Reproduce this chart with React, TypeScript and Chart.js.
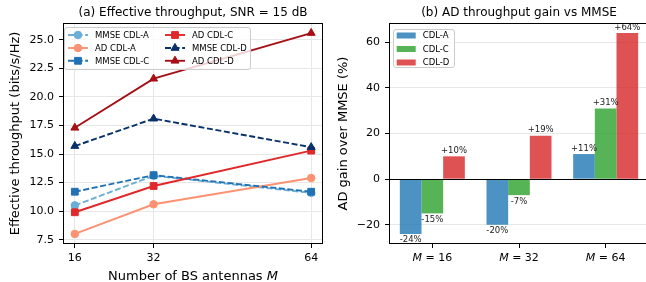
import React, { useEffect, useRef } from 'react';
import { Chart, registerables } from 'chart.js';

Chart.register(...registerables);

// ---------- data ----------
const antennas = [16, 32, 64];
const mmseCdlA = [10.5, 13.1, 11.6];
const adCdlA = [8.0, 10.6, 12.9];
const mmseCdlC = [11.7, 13.15, 11.7];
const adCdlC = [9.9, 12.2, 15.3];
const mmseCdlD = [15.7, 18.1, 15.6];
const adCdlD = [17.3, 21.6, 25.6];

const leftYTicks = [7.5, 10, 12.5, 15, 17.5, 20, 22.5, 25];

const gainCategories = ['16', '32', '64'];
const gainCdlA = [-24, -20, 11];
const gainCdlC = [-15, -7, 31];
const gainCdlD = [10, 19, 64];
const rightYTicks = [-20, 0, 20, 40, 60];

const leftTitle = '(a) Effective throughput, SNR = 15 dB';
const rightTitle = '(b) AD throughput gain vs MMSE';
const leftXLabel = 'Number of BS antennas ';
const leftYLabel = 'Effective throughput (bits/s/Hz)';
const rightYLabel = 'AD gain over MMSE (%)';

const FONT = '"DejaVu Sans"';
const GRID = '#e7e7e7';
const LW = 1.9;
const DASH = [6, 2.6];

type Series = { label: string; data: number[]; color: string; dash: boolean; style: string; r: number };

const lineSeries: Series[] = [
  { label: 'MMSE CDL-A', data: mmseCdlA, color: '#6baed6', dash: true, style: 'circle', r: 3.8 },
  { label: 'AD CDL-A', data: adCdlA, color: '#fc9272', dash: false, style: 'circle', r: 3.8 },
  { label: 'MMSE CDL-C', data: mmseCdlC, color: '#2171b5', dash: true, style: 'rect', r: 4.8 },
  { label: 'AD CDL-C', data: adCdlC, color: '#e0282a', dash: false, style: 'rect', r: 4.8 },
  { label: 'MMSE CDL-D', data: mmseCdlD, color: '#08306b', dash: true, style: 'triangle', r: 4.6 },
  { label: 'AD CDL-D', data: adCdlD, color: '#a50f15', dash: false, style: 'triangle', r: 4.6 },
];

const barSeries = [
  { label: 'CDL-A', data: gainCdlA, color: 'rgba(31,119,180,0.8)' },
  { label: 'CDL-C', data: gainCdlC, color: 'rgba(44,160,44,0.8)' },
  { label: 'CDL-D', data: gainCdlD, color: 'rgba(214,39,40,0.8)' },
];

function drawMarker(ctx: CanvasRenderingContext2D, style: string, x: number, y: number, r: number, color: string) {
  ctx.save();
  ctx.fillStyle = color;
  ctx.strokeStyle = color;
  ctx.lineWidth = 1;
  ctx.setLineDash([]);
  ctx.beginPath();
  if (style === 'circle') {
    ctx.arc(x, y, r, 0, Math.PI * 2);
  } else if (style === 'rect') {
    const s = Math.SQRT1_2 * r;
    ctx.rect(x - s, y - s, 2 * s, 2 * s);
  } else {
    const a = Math.PI * 2 / 3;
    ctx.moveTo(x, y - r);
    ctx.lineTo(x + Math.sin(a) * r, y - Math.cos(a) * r);
    ctx.lineTo(x + Math.sin(2 * a) * r, y - Math.cos(2 * a) * r);
    ctx.closePath();
  }
  ctx.fill();
  ctx.stroke();
  ctx.restore();
}

function roundRect(ctx: CanvasRenderingContext2D, x: number, y: number, w: number, h: number, r: number) {
  ctx.beginPath();
  ctx.moveTo(x + r, y);
  ctx.lineTo(x + w - r, y);
  ctx.arcTo(x + w, y, x + w, y + r, r);
  ctx.lineTo(x + w, y + h - r);
  ctx.arcTo(x + w, y + h, x + w - r, y + h, r);
  ctx.lineTo(x + r, y + h);
  ctx.arcTo(x, y + h, x, y + h - r, r);
  ctx.lineTo(x, y + r);
  ctx.arcTo(x, y, x + r, y, r);
  ctx.closePath();
}

function drawSpines(ctx: CanvasRenderingContext2D, a: any) {
  ctx.save();
  ctx.strokeStyle = '#000';
  ctx.lineWidth = 1;
  ctx.setLineDash([]);
  ctx.strokeRect(a.left + 0.5, a.top + 0.5, a.right - a.left - 1, a.bottom - a.top - 1);
  ctx.restore();
}

function drawRotated(ctx: CanvasRenderingContext2D, text: string, x: number, y: number, size: number) {
  ctx.save();
  ctx.translate(x, y);
  ctx.rotate(-Math.PI / 2);
  ctx.font = `${size}px ${FONT}`;
  ctx.fillStyle = '#000';
  ctx.textAlign = 'center';
  ctx.textBaseline = 'middle';
  ctx.fillText(text, 0, 0);
  ctx.restore();
}

// draws text pieces (regular / italic) side by side, centered at cx
function drawMixed(ctx: CanvasRenderingContext2D, parts: { t: string; it: boolean }[], cx: number, baseline: number, size: number) {
  ctx.save();
  ctx.fillStyle = '#000';
  ctx.textBaseline = 'alphabetic';
  ctx.textAlign = 'left';
  let total = 0;
  const widths = parts.map((p) => {
    ctx.font = `${p.it ? 'italic ' : ''}${size}px ${FONT}`;
    const w = ctx.measureText(p.t).width;
    total += w;
    return w;
  });
  let x = cx - total / 2;
  parts.forEach((p, i) => {
    ctx.font = `${p.it ? 'italic ' : ''}${size}px ${FONT}`;
    ctx.fillText(p.t, x, baseline);
    x += widths[i];
  });
  ctx.restore();
}

export default function App() {
  const leftRef = useRef<HTMLCanvasElement>(null);
  const rightRef = useRef<HTMLCanvasElement>(null);

  useEffect(() => {
    const leftDecor = {
      id: 'leftDecor',
      afterDraw(chart: any) {
        const { ctx, chartArea: a } = chart;
        drawSpines(ctx, a);
        const cx = (a.left + a.right) / 2;
        ctx.save();
        ctx.font = `12px ${FONT}`;
        ctx.fillStyle = '#000';
        ctx.textAlign = 'center';
        ctx.textBaseline = 'alphabetic';
        ctx.fillText(leftTitle, cx, 15.8);
        ctx.restore();
        drawMixed(ctx, [{ t: leftXLabel, it: false }, { t: 'M', it: true }], cx, 280, 13);
        drawRotated(ctx, leftYLabel, 15.3, (a.top + a.bottom) / 2, 13);
        // legend
        ctx.save();
        const bx = 64, by = 27, bw = 186, bh = 42;
        roundRect(ctx, bx + 0.5, by + 0.5, bw, bh, 2.5);
        ctx.fillStyle = 'rgba(255,255,255,0.8)';
        ctx.fill();
        ctx.strokeStyle = '#cccccc';
        ctx.lineWidth = 1;
        ctx.stroke();
        const rows = [35, 48, 60.8];
        const cols = [{ h0: 68, h1: 88, tx: 95 }, { h0: 165, h1: 185, tx: 192 }];
        lineSeries.forEach((s, i) => {
          const col = cols[Math.floor(i / 3)];
          const y = rows[i % 3];
          ctx.save();
          ctx.strokeStyle = s.color;
          ctx.lineWidth = LW;
          ctx.setLineDash(s.dash ? DASH : []);
          ctx.beginPath();
          ctx.moveTo(col.h0, y);
          ctx.lineTo(col.h1, y);
          ctx.stroke();
          ctx.restore();
          drawMarker(ctx, s.style, (col.h0 + col.h1) / 2, y, s.r, s.color);
          ctx.font = `8.5px ${FONT}`;
          ctx.fillStyle = '#000';
          ctx.textAlign = 'left';
          ctx.textBaseline = 'middle';
          ctx.fillText(s.label, col.tx, y + 0.5);
        });
        ctx.restore();
      },
    };

    const left = new Chart(leftRef.current as HTMLCanvasElement, {
      type: 'line',
      data: {
        datasets: lineSeries.map((s, i) => ({
          label: s.label,
          data: antennas.map((x, j) => ({ x, y: s.data[j] })),
          borderColor: s.color,
          backgroundColor: s.color,
          borderWidth: LW,
          borderDash: s.dash ? DASH : [],
          pointStyle: s.style as any,
          pointRadius: s.r,
          pointBorderWidth: 1,
          pointBackgroundColor: s.color,
          pointBorderColor: s.color,
          tension: 0,
          order: lineSeries.length - i,
        })),
      },
      options: {
        animation: false,
        responsive: false,
        layout: { padding: { top: 23, right: 7, left: 0, bottom: 0 } },
        plugins: { legend: { display: false }, title: { display: false }, tooltip: { enabled: false } },
        scales: {
          x: {
            type: 'linear',
            min: 13.6,
            max: 66.4,
            afterBuildTicks: (s: any) => {
              s.ticks = antennas.map((v) => ({ value: v }));
            },
            afterFit: (s: any) => {
              s.height = 38;
            },
            ticks: {
              font: { family: 'DejaVu Sans', size: 11 },
              color: '#000',
              padding: 3.5,
              autoSkip: false,
              maxRotation: 0,
              callback: (v: any) => String(v),
            },
            grid: { color: GRID, lineWidth: 1, tickColor: '#000', tickLength: 4, tickWidth: 1 },
            border: { display: false },
          },
          y: {
            type: 'linear',
            min: 7.12,
            max: 26.48,
            afterBuildTicks: (s: any) => {
              s.ticks = leftYTicks.map((v) => ({ value: v }));
            },
            afterFit: (s: any) => {
              s.width = 63;
            },
            ticks: {
              font: { family: 'DejaVu Sans', size: 11 },
              color: '#000',
              padding: 5,
              autoSkip: false,
              callback: (v: any) => Number(v).toFixed(1),
            },
            grid: { color: GRID, lineWidth: 1, tickColor: '#000', tickLength: 4, tickWidth: 1 },
            border: { display: false },
          },
        },
      },
      plugins: [leftDecor],
    } as any);

    const rightDecor = {
      id: 'rightDecor',
      afterDatasetsDraw(chart: any) {
        const { ctx, chartArea: a } = chart;
        const y0 = Math.round(chart.scales.y.getPixelForValue(0)) + 0.5;
        ctx.save();
        ctx.strokeStyle = '#000';
        ctx.lineWidth = 1;
        ctx.beginPath();
        ctx.moveTo(a.left, y0);
        ctx.lineTo(a.right, y0);
        ctx.stroke();
        ctx.font = `8.5px ${FONT}`;
        ctx.fillStyle = '#222';
        ctx.textAlign = 'center';
        ctx.textBaseline = 'alphabetic';
        barSeries.forEach((s, di) => {
          const meta = chart.getDatasetMeta(di);
          meta.data.forEach((bar: any, i: number) => {
            const v = s.data[i];
            const txt = (v > 0 ? '+' : '') + v + '%';
            const y = v >= 0 ? bar.y - 3.4 : bar.y + 8.4;
            ctx.fillText(txt, bar.x, y);
          });
        });
        ctx.restore();
      },
      afterDraw(chart: any) {
        const { ctx, chartArea: a } = chart;
        drawSpines(ctx, a);
        const cx = (a.left + a.right) / 2;
        ctx.save();
        ctx.font = `12px ${FONT}`;
        ctx.fillStyle = '#000';
        ctx.textAlign = 'center';
        ctx.textBaseline = 'alphabetic';
        ctx.fillText(rightTitle, cx, 15.8);
        ctx.restore();
        drawRotated(ctx, rightYLabel, 13.3, (a.top + a.bottom) / 2, 13);
        const xs = chart.scales.x;
        gainCategories.forEach((c, i) => {
          drawMixed(ctx, [{ t: 'M', it: true }, { t: ' = ' + c, it: false }], xs.getPixelForTick(i), 260.8, 11);
        });
        // legend
        ctx.save();
        const bx = 63, by = 29, bw = 61, bh = 38;
        roundRect(ctx, bx + 0.5, by + 0.5, bw, bh, 2.5);
        ctx.fillStyle = 'rgba(255,255,255,0.8)';
        ctx.fill();
        ctx.strokeStyle = '#cccccc';
        ctx.lineWidth = 1;
        ctx.stroke();
        const rows = [35.5, 49, 62.5];
        barSeries.forEach((s, i) => {
          const y = rows[i];
          ctx.fillStyle = s.color;
          ctx.fillRect(66.7, y - 3, 19, 6);
          ctx.font = `8.5px ${FONT}`;
          ctx.fillStyle = '#000';
          ctx.textAlign = 'left';
          ctx.textBaseline = 'middle';
          ctx.fillText(s.label, 92.7, y + 0.5);
        });
        ctx.restore();
      },
    };

    const right = new Chart(rightRef.current as HTMLCanvasElement, {
      type: 'bar',
      data: {
        labels: gainCategories,
        datasets: barSeries.map((s) => ({
          label: s.label,
          data: s.data,
          backgroundColor: s.color,
          borderWidth: 0,
          categoryPercentage: 0.75,
          barPercentage: 1.0,
        })),
      },
      options: {
        animation: false,
        responsive: false,
        layout: { padding: { top: 23, right: 3, left: 0, bottom: 0 } },
        plugins: { legend: { display: false }, title: { display: false }, tooltip: { enabled: false } },
        scales: {
          x: {
            ticks: { display: false },
            afterFit: (s: any) => {
              s.height = 38;
            },
            grid: { display: true, drawOnChartArea: false, offset: false, tickColor: '#000', tickLength: 4, tickWidth: 1 },
            border: { display: false },
          },
          y: {
            type: 'linear',
            min: -28.4,
            max: 68.4,
            afterBuildTicks: (s: any) => {
              s.ticks = rightYTicks.map((v) => ({ value: v }));
            },
            afterFit: (s: any) => {
              s.width = 59;
            },
            ticks: {
              font: { family: 'DejaVu Sans', size: 11 },
              color: '#000',
              padding: 5,
              autoSkip: false,
              callback: (v: any) => (v < 0 ? '\u2212' + Math.abs(v) : String(v)),
            },
            grid: { color: GRID, lineWidth: 1, tickColor: '#000', tickLength: 4, tickWidth: 1 },
            border: { display: false },
          },
        },
      },
      plugins: [rightDecor],
    } as any);

    return () => {
      left.destroy();
      right.destroy();
    };
  }, []);

  return (
    <div style={{ position: 'fixed', left: 0, top: 0, width: 646, height: 282, overflow: 'hidden', background: '#fff' }}>
      <canvas ref={leftRef} width={330} height={282} style={{ position: 'absolute', left: 0, top: 0 }} />
      <canvas ref={rightRef} width={322} height={282} style={{ position: 'absolute', left: 330, top: 0 }} />
    </div>
  );
}
